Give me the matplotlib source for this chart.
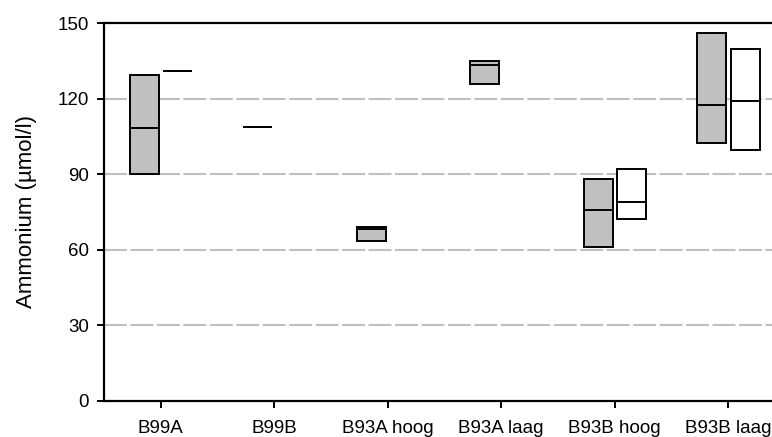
import numpy as np
import matplotlib.pyplot as plt

plt.rcParams['font.family'] = ['Liberation Sans', 'DejaVu Sans']

locaties = ['B99A', 'B99B', 'B93A hoog', 'B93A laag', 'B93B hoog', 'B93B laag']

# grijze reeks: minimum, mediaan, maximum
grijs_min = [90.2, 108.6, 63.5, 125.8, 60.9, 102.3]
grijs_med = [108.5, 108.6, 68.2, 133.3, 75.9, 117.5]
grijs_max = [129.3, 108.6, 69.1, 135.0, 88.0, 146.0]

# witte reeks (nan = geen meting)
wit_min = [131.0, np.nan, np.nan, np.nan, 72.0, 99.7]
wit_med = [131.0, np.nan, np.nan, np.nan, 79.0, 119.0]
wit_max = [131.0, np.nan, np.nan, np.nan, 91.9, 139.8]

yticks = [0, 30, 60, 90, 120, 150]

fig = plt.figure(figsize=(7.72, 4.37), dpi=100)
ax = fig.add_axes([104 / 772, 36.5 / 437, 681 / 772, 377.2 / 437])

x = np.arange(len(locaties))
breedte = 0.255

def boxen(offset, lo, med, hi, kleur):
    lo = np.array(lo)
    med = np.array(med)
    hi = np.array(hi)
    ok = ~np.isnan(lo)
    pos = x[ok] + offset
    ax.bar(pos, hi[ok] - lo[ok], bottom=lo[ok], width=breedte,
           color=kleur, edgecolor='black', linewidth=1.4, zorder=3)
    ax.hlines(med[ok], pos - breedte / 2, pos + breedte / 2,
              color='black', linewidth=1.4, zorder=4)

boxen(-0.145, grijs_min, grijs_med, grijs_max, '#c0c0c0')
boxen(0.15, wit_min, wit_med, wit_max, 'white')

for y in yticks[1:-1]:
    ax.axhline(y, color='#c0c0c0', linewidth=1.5, linestyle=(0, (11, 1.7)), zorder=1)

ax.set_xlim(-0.5, len(locaties) - 0.5)
ax.set_ylim(0, 150)
ax.set_yticks(yticks)
ax.set_xticks(x)
ax.set_xticklabels(locaties)
ax.tick_params(axis='both', labelsize=13.5, width=1.4, length=5, direction='out')
ax.tick_params(axis='y', pad=6)
ax.tick_params(axis='x', pad=9)
ax.set_ylabel('Ammonium (µmol/l)', fontsize=16, labelpad=15)

for side in ['left', 'bottom', 'top']:
    ax.spines[side].set_linewidth(1.6)
ax.spines['right'].set_visible(False)

fig.savefig('out.png', dpi=100)
